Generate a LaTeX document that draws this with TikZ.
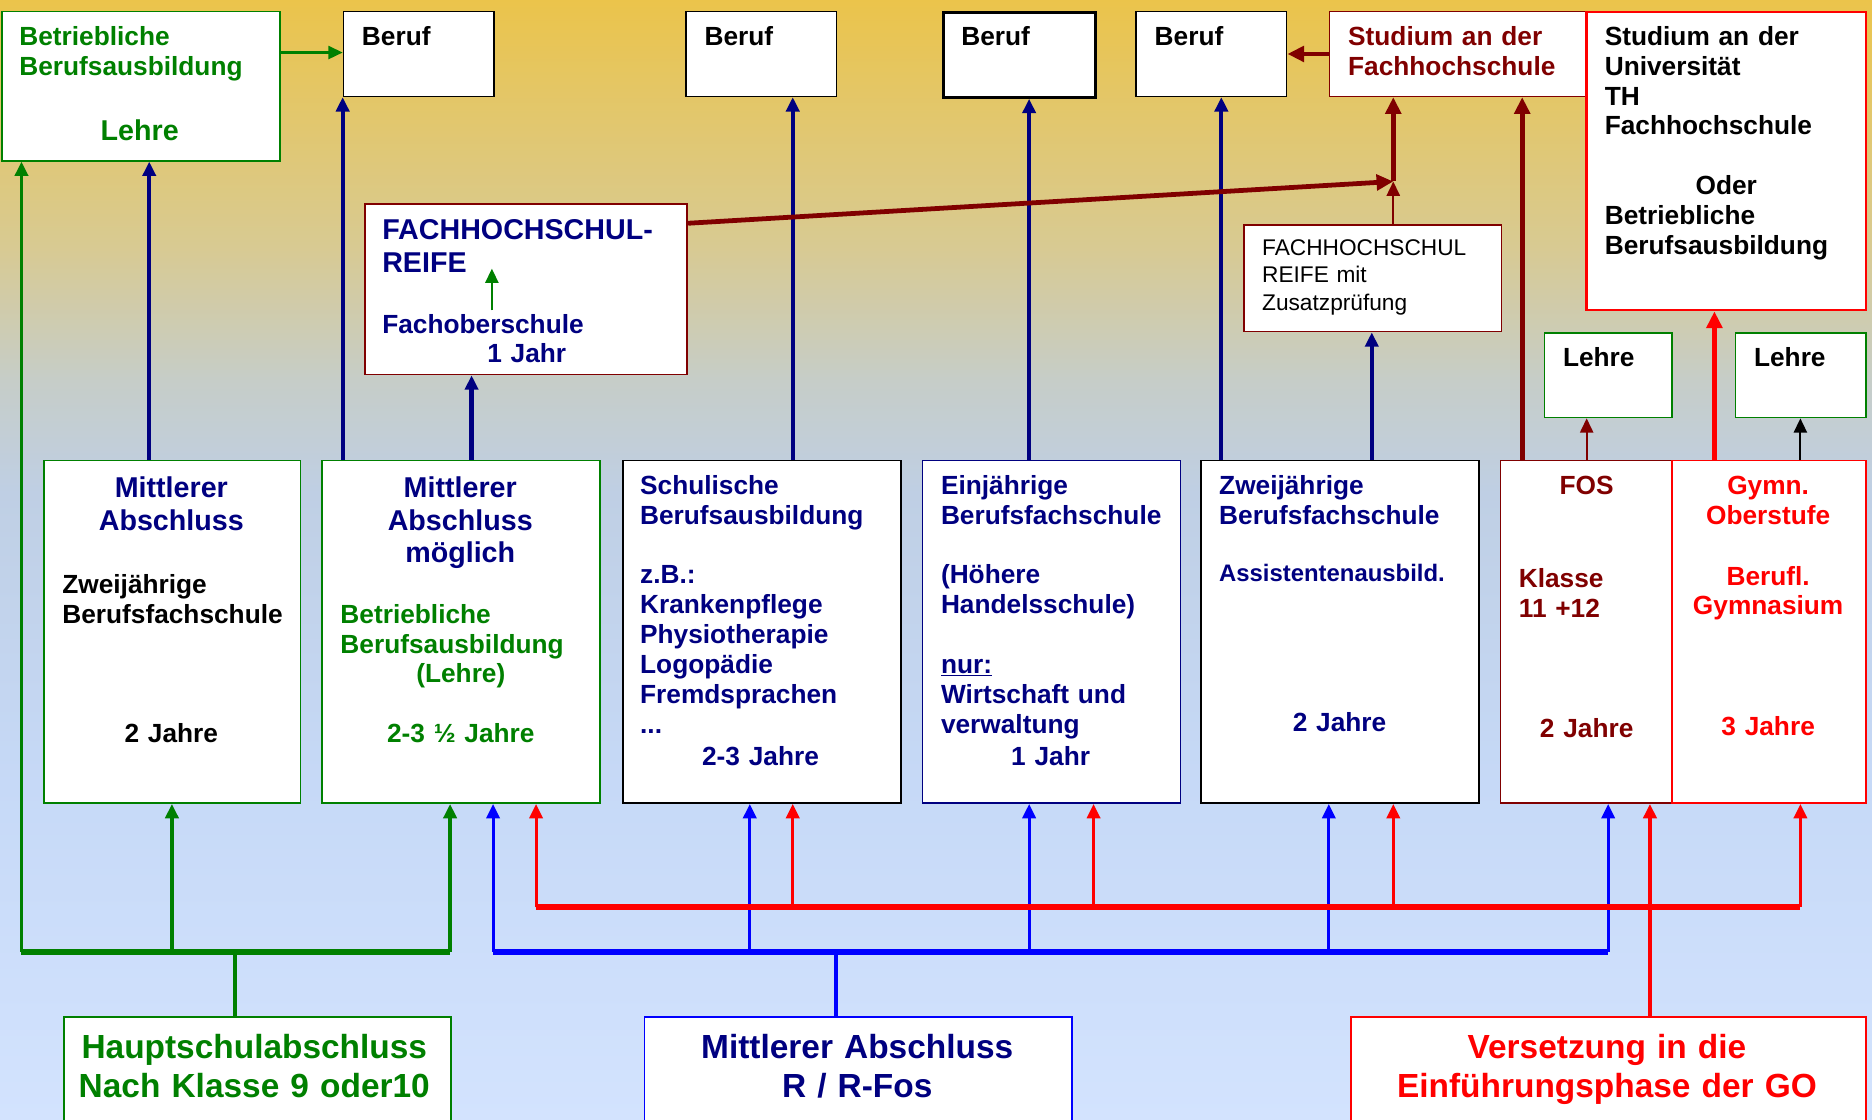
\documentclass[tikz,border=0pt]{standalone}
\usepackage{fontspec}
\setmainfont{Liberation Sans}
\usetikzlibrary{arrows.meta,calc}

\definecolor{hgreen}{RGB}{0,128,0}
\definecolor{hnavy}{RGB}{0,0,128}
\definecolor{hblue}{RGB}{0,0,255}
\definecolor{hred}{RGB}{255,0,0}
\definecolor{hdred}{RGB}{128,0,0}
\definecolor{bga}{HTML}{D3E3FE}
\definecolor{bgb}{HTML}{C6D9F7}
\definecolor{bgc}{HTML}{BFCFE4}
\definecolor{bgd}{HTML}{C6CDC8}
\definecolor{bge}{HTML}{D8CA92}
\definecolor{bgf}{HTML}{EBC44B}

\pgfdeclareverticalshading{bgshade}{100bp}{color(0bp)=(bga); color(25bp)=(bga);
  color(40bp)=(bgb); color(53bp)=(bgc); color(58bp)=(bgd); color(64bp)=(bge);
  color(75bp)=(bgf); color(100bp)=(bgf)}

\newcommand{\szN}{\fontsize{22}{25}\selectfont\bfseries}
\newcommand{\szM}{\fontsize{24}{27}\selectfont\bfseries}
\newcommand{\szB}{\fontsize{28}{32}\selectfont\bfseries}
\newcommand{\szS}{\fontsize{20}{23}\selectfont\bfseries}
\newcommand{\szR}{\fontsize{19}{23}\selectfont}

\tikzset{
  box/.style={draw=#1, fill=white, line width=1.4pt, inner sep=0pt, anchor=north west},
  txt/.style={inner sep=0pt, anchor=base west, align=left, text width=#1},
  ctr/.style={inner sep=0pt, anchor=base, align=center, text width=#1},
  gbus/.style={hgreen, line width=5pt},
  bbus/.style={hblue, line width=5pt},
  rbus/.style={hred, line width=5pt},
  gline/.style={hgreen, line width=3pt},
  bline/.style={hblue, line width=3pt},
  gup/.style={->, hgreen, line width=3pt},
  bup/.style={->, hblue, line width=2.6pt},
  rup/.style={->, hred, line width=2.6pt},
  nup/.style={->, hnavy, line width=3.5pt},
  dthick/.style={-{Triangle[length=14pt,width=13pt]}, hdred, line width=4pt},
  dthin/.style={->, hdred, line width=1.8pt},
  rthick/.style={-{Triangle[length=14pt,width=13pt]}, hred, line width=4pt},
  kthin/.style={->, black, line width=1.8pt},
  gthin/.style={->, hgreen, line width=1.8pt}
}

\begin{document}
\begin{tikzpicture}[x=1pt, y=-1pt, >={Triangle[length=12pt,width=11pt]}]
\useasboundingbox (0,0) rectangle (1568,938);
\clip (0,0) rectangle (1568,938);
\shade[shading=bgshade] (0,0) rectangle (1568,938);

% top row
\node[box=hgreen, minimum width=233pt, minimum height=125pt] (lehre) at (0.7,9) {};
\node[box=black, minimum width=126pt, minimum height=71pt] (beruf1) at (287,9) {};
\node[box=black, minimum width=126pt, minimum height=71pt] (beruf2) at (574,9) {};
\node[box=black, line width=2.8pt, minimum width=127pt, minimum height=71pt] (beruf3) at (789,9) {};
\node[box=black, minimum width=126pt, minimum height=71pt] (beruf4) at (951,9) {};
\node[box=hdred, minimum width=217pt, minimum height=71pt] (studfh) at (1113,9) {};
\node[box=hred, line width=1.8pt, minimum width=234pt, minimum height=250pt] (studuni) at (1328,9) {};
\node[box=hdred, minimum width=270pt, minimum height=143pt] (fhr) at (305,170) {};
\node[box=hdred, minimum width=216pt, minimum height=89pt] (fhrz) at (1041,188) {};
\node[box=hgreen, minimum width=107pt, minimum height=71pt] (lehreA) at (1293,278) {};
\node[box=hgreen, minimum width=109pt, minimum height=71pt] (lehreB) at (1453,278) {};

% middle row
\node[box=hgreen, minimum width=215pt, minimum height=287pt] (m1) at (36,385) {};
\node[box=hgreen, minimum width=233pt, minimum height=287pt] (m2) at (269,385) {};
\node[box=black, minimum width=233pt, minimum height=287pt] (m3) at (521,385) {};
\node[box=hnavy, minimum width=216pt, minimum height=287pt] (m4) at (772,385) {};
\node[box=black, minimum width=233pt, minimum height=287pt] (m5) at (1005,385) {};
\node[box=hdred, minimum width=144pt, minimum height=287pt] (fos) at (1256,385) {};
\node[box=hred, minimum width=162pt, minimum height=287pt] (gym) at (1400,385) {};

% bottom row
\node[box=hgreen, minimum width=324pt, minimum height=130pt] (hs) at (53,851) {};
\node[box=hblue, minimum width=358pt, minimum height=130pt] (mr) at (539,851) {};
\node[box=hred, minimum width=431pt, minimum height=130pt] (vs) at (1131,851) {};

% texts
\node[txt=210pt, font=\szN, text=hgreen] (lehreT) at (16,38) {Betriebliche\\Berufsausbildung};
\node[ctr=120pt, font=\szM, text=hgreen] (lehreL) at (117,118) {Lehre};
\foreach \b in {beruf1,beruf2,beruf3,beruf4}
  {\node[txt=100pt, font=\szN] (\b T) at ([shift={(16pt,-29pt)}]\b.north west) {Beruf};}
\node[txt=200pt, font=\szN, text=hdred] (studfhT) at (1129,38) {Studium an der\\Fachhochschule};
\node[txt=210pt, font=\szN] (studuniT) at (1344,38)
  {Studium an der\\Universität\\TH\\Fachhochschule\\[25pt]\hspace*{76pt}Oder\\Betriebliche\\Berufsausbildung};
\node[txt=250pt, font=\szM, text=hnavy] (fhrT) at (320,201) {FACHHOCHSCHUL-\\REIFE};
\node[txt=200pt, font=\szN, text=hnavy] (fhrF) at (320,279) {Fachoberschule};
\node[txt=100pt, font=\szN, text=hnavy] (fhrJ) at (408,304) {1 Jahr};
\node[txt=195pt, font=\szR] (fhrzT) at (1057,214) {FACHHOCHSCHUL\\REIFE mit\\Zusatzprüfung};
\node[txt=80pt, font=\szN] (lehreAT) at (1309,307) {Lehre};
\node[txt=80pt, font=\szN] (lehreBT) at (1469,307) {Lehre};

\node[ctr=200pt, font=\szM, text=hnavy] (m1T) at (143.5,417) {Mittlerer\\Abschluss};
\node[txt=195pt, font=\szN] (m1S) at (52,497) {Zweijährige\\Berufsfachschule};
\node[ctr=200pt, font=\szN] (m1J) at (143.5,622) {2 Jahre};
\node[ctr=220pt, font=\szM, text=hnavy] (m2T) at (385.5,417) {Mittlerer\\Abschluss\\möglich};
\node[txt=215pt, font=\szN, text=hgreen] (m2S) at (285,522) {Betriebliche\\Berufsausbildung};
\node[ctr=200pt, font=\szN, text=hgreen] (m2L) at (386,572) {(Lehre)};
\node[ctr=200pt, font=\szN, text=hgreen] (m2J) at (386,622) {2-3 ½ Jahre};
\node[txt=215pt, font=\szN, text=hnavy] (m3T) at (536,414)
  {Schulische\\Berufsausbildung\\[25pt]z.B.:\\Krankenpflege\\Physiotherapie\\Logopädie\\Fremdsprachen\\...};
\node[ctr=200pt, font=\szN, text=hnavy] (m3J) at (637,641) {2-3 Jahre};
\node[txt=200pt, font=\szN, text=hnavy] (m4T) at (788,414)
  {Einjährige\\Berufsfachschule\\[25pt](Höhere\\Handelsschule)\\[25pt]\underline{nur:}\\Wirtschaft und\\verwaltung};
\node[ctr=200pt, font=\szN, text=hnavy] (m4J) at (880,641) {1 Jahr};
\node[txt=215pt, font=\szN, text=hnavy] (m5T) at (1021,414) {Zweijährige\\Berufsfachschule};
\node[txt=215pt, font=\szS, text=hnavy] (m5A) at (1021,487) {Assistentenausbild.};
\node[ctr=200pt, font=\szN, text=hnavy] (m5J) at (1122,613) {2 Jahre};
\node[ctr=130pt, font=\szN, text=hdred] (fosT) at (1329,414) {FOS};
\node[txt=120pt, font=\szN, text=hdred] (fosK) at (1272,492) {Klasse\\11 +12};
\node[ctr=130pt, font=\szN, text=hdred] (fosJ) at (1329,618) {2 Jahre};
\node[ctr=150pt, font=\szN, text=hred] (gymT) at (1481,414) {Gymn.\\Oberstufe};
\node[ctr=150pt, font=\szN, text=hred] (gymB) at (1481,490) {Berufl.\\Gymnasium};
\node[ctr=150pt, font=\szN, text=hred] (gymJ) at (1481,616) {3 Jahre};

\node[ctr=310pt, font=\szB, text=hgreen] (hsT) at (213,887) {Hauptschulabschluss\\Nach Klasse 9 oder10};
\node[ctr=340pt, font=\szB, text=hnavy] (mrT) at (718,887) {Mittlerer Abschluss\\R / R-Fos};
\node[ctr=420pt, font=\szB, text=hred] (vsT) at (1346,887) {Versetzung in die\\Einführungsphase der GO};

% green paths
\coordinate (gL) at (18,797);
\coordinate (gM) at (144,797);
\coordinate (gR) at (377,797);
\coordinate (gC) at (197,797);
\draw[gbus] (gL) -- (gR);
\draw[gline] (gC |- hs.north) -- (gC);
\draw[gup] (gL) -- (gL |- lehre.south);
\draw[gup] (gM) -- (gM |- m1.south);
\draw[gup] (gR) -- (gR |- m2.south);

% blue paths
\coordinate (bL) at (413,797);
\coordinate (b2) at (628,797);
\coordinate (b3) at (862,797);
\coordinate (b4) at (1113,797);
\coordinate (bR) at (1347,797);
\coordinate (bC) at (700,797);
\draw[bbus] (bL) -- (bR);
\draw[bline] (bC |- mr.north) -- (bC);
\foreach \c/\n in {bL/m2, b2/m3, b3/m4, b4/m5, bR/fos}
  {\draw[bup] (\c) -- (\c |- \n.south);}

% red paths
\coordinate (rL) at (449,760);
\coordinate (r2) at (664,760);
\coordinate (r3) at (916,760);
\coordinate (r4) at (1167,760);
\coordinate (rR) at (1508,760);
\coordinate (rV) at ([xshift=251pt]vs.north west);
\draw[rbus] (rL) -- (rR);
\foreach \c/\n in {rL/m2, r2/m3, r3/m4, r4/m5, rR/gym}
  {\draw[rup] (\c) -- (\c |- \n.south);}
\draw[rup, line width=3pt] (rV) -- (rV |- fos.south);

% upward to the top row
\foreach \n/\dx/\t in {m1/89/lehre, m2/18/beruf1, m2/126/fhr, m3/143/beruf2,
                       m4/90/beruf3, m5/18/beruf4, m5/144/fhrz}
  {\coordinate (s) at ([xshift=\dx pt]\n.north west);
   \draw[nup] (s) -- (s |- \t.south);}

\coordinate (f1) at ([xshift=19pt]fos.north west);
\coordinate (f2) at ([xshift=73pt]fos.north west);
\coordinate (g1) at ([xshift=36pt]gym.north west);
\coordinate (g2) at ([xshift=108pt]gym.north west);
\draw[dthick] (f1) -- (f1 |- studfh.south);
\draw[dthin] (f2) -- (f2 |- lehreA.south);
\draw[rthick] (g1) -- (g1 |- studuni.south);
\draw[kthin] (g2) -- (g2 |- lehreB.south);

% Fachhochschulreife to Studium
\coordinate (jn) at (1167,152);
\draw[dthick] ([yshift=-17pt]fhr.north east) -- (jn);
\draw[dthick] (jn) -- (jn |- studfh.south);
\draw[dthin] (jn |- fhrz.north) -- (jn);
\draw[dthick] (studfh.west) -- (beruf4.east);

% green small arrows
\coordinate (la) at ([yshift=-35pt]lehre.north east);
\draw[gthin] (la) -- (la -| beruf1.west);
\coordinate (fa) at ([shift={(107pt,-90pt)}]fhr.north west);
\coordinate (fb) at ([shift={(107pt,-55pt)}]fhr.north west);
\draw[gthin] (fa) -- (fb);
\end{tikzpicture}
\end{document}
